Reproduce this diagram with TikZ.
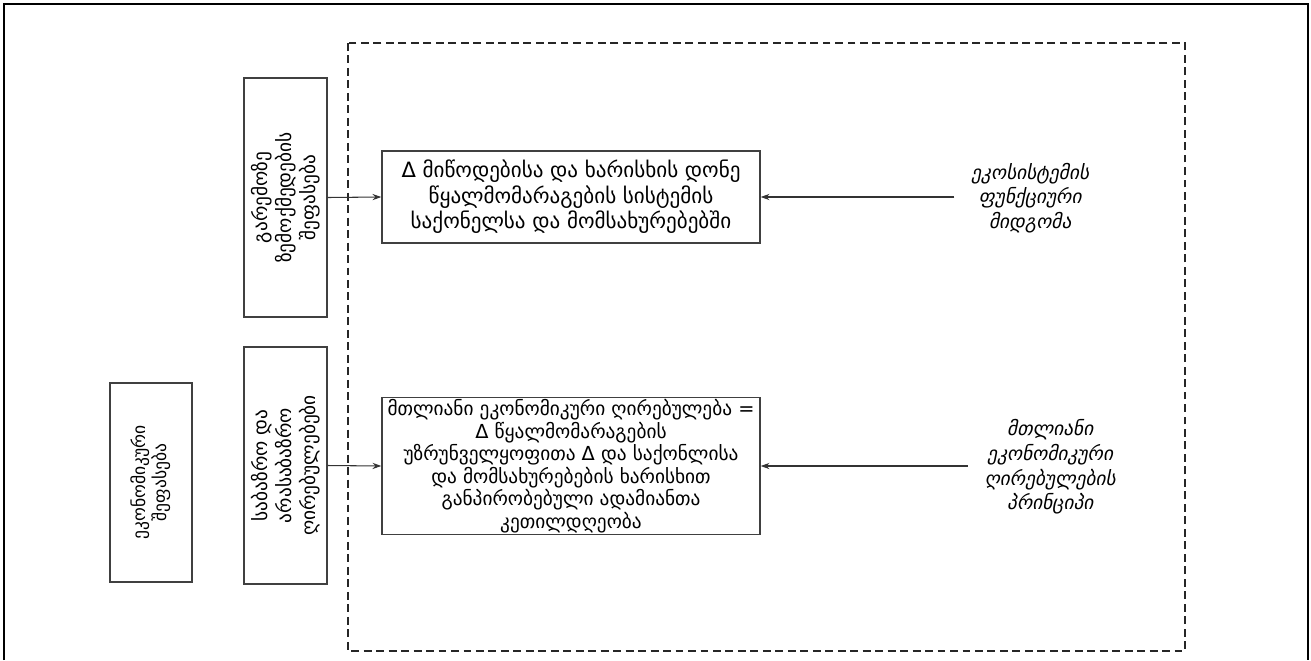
\documentclass[tikz,border=0pt]{standalone}
\usepackage{fontspec}
\setmainfont{DejaVu Sans}
\newfontfamily\geoslant[FakeSlant=0.2]{DejaVu Sans}
\usetikzlibrary{arrows.meta}

\tikzset{
    box/.style={draw=black!75, line width=0.8pt, align=center, inner sep=1pt},
    vbox/.style={box, rotate=90},
    slanttext/.style={align=center, font=\geoslant\fontsize{11}{14}\selectfont},
    arr/.style={-{Stealth[length=5pt,width=3.5pt]}, black!80, line width=0.6pt}
}

\begin{document}
\begin{tikzpicture}[x=0.02cm, y=-0.02cm]
    \useasboundingbox (0,0) rectangle (1311,660);
    % outer frame
    \draw[line width=1.3pt] (4,660) -- (4,4) -- (95,4);
    \draw[line width=0.7pt] (95,4) -- (1218,4);
    \draw[line width=1.3pt] (1218,4) -- (1308,4) -- (1308,660);
    % dashed region
    \draw[black!85, line width=0.9pt, dash pattern=on 4.5pt off 2.6pt] (348,43) rectangle (1185,651);

    \node[vbox, minimum width=4.78cm, minimum height=1.66cm, font=\fontsize{11}{13.5}\selectfont] (impact) at (285.5,197.5)
        {გარემოზე\\ზემოქმედების\\შეფასება};
    \node[vbox, minimum width=4.74cm, minimum height=1.66cm, font=\fontsize{11}{13.5}\selectfont] (values) at (285.5,465.5)
        {საბაზრო და\\არასაბაზრო\\ღირებულებები};
    \node[vbox, minimum width=3.98cm, minimum height=1.64cm, font=\fontsize{10}{12}\selectfont] (econ) at (151,482.5)
        {ეკონომიკური\\შეფასება};

    \node[box, minimum width=7.56cm, minimum height=1.84cm, font=\fontsize{12}{14.5}\selectfont] (supply) at (571,197)
        {Δ მიწოდებისა და ხარისხის დონე\\წყალმომარაგების სისტემის\\საქონელსა და მომსახურებებში};
    \node[box, minimum width=7.56cm, minimum height=2.72cm, font=\fontsize{11}{12.8}\selectfont] (total) at (571,466)
        {მთლიანი ეკონომიკური ღირებულება =\\Δ წყალმომარაგების\\უზრუნველყოფითა Δ და საქონლისა\\და მომსახურებების ხარისხით\\განპირობებული ადამიანთა\\კეთილდღეობა};

    \node[slanttext] (ecosys) at (1030,198) {ეკოსისტემის\\ფუნქციური\\მიდგომა};
    \node[slanttext] (tev) at (1050,467) {მთლიანი\\ეკონომიკური\\ღირებულების\\პრინციპი};

    \draw[arr] (impact.south) -- (supply.west);
    \draw[arr] (values.south) -- (total.west);
    \draw[arr, shorten <=6pt] (ecosys.west |- supply.east) -- (supply.east);
    \draw[arr, shorten <=6pt] (tev.west |- total.east) -- (total.east);
\end{tikzpicture}
\end{document}
